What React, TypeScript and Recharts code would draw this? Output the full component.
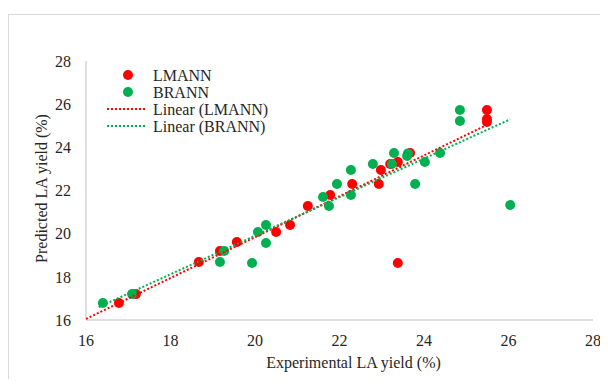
import { Label, Scatter, ScatterChart, XAxis, YAxis } from "recharts";

const lmannX = [16.78, 17.18, 18.67, 19.17, 19.57, 20.5, 20.83, 21.25, 21.78, 22.3, 22.93, 22.98, 23.2, 23.38, 23.67, 25.49, 25.49, 25.49, 23.38];
const lmannY = [16.79, 17.2, 18.69, 19.2, 19.61, 20.08, 20.4, 21.28, 21.79, 22.3, 22.3, 22.95, 23.23, 23.32, 23.74, 25.73, 25.31, 25.17, 18.64];

const brannX = [16.4, 17.09, 19.17, 19.27, 19.93, 20.07, 20.26, 20.26, 21.61, 21.75, 21.94, 22.27, 22.27, 22.79, 23.24, 23.29, 23.6, 23.62, 23.79, 24.02, 24.38, 24.85, 24.85, 26.04];
const brannY = [16.79, 17.2, 18.69, 19.2, 18.64, 20.08, 20.4, 19.57, 21.7, 21.28, 22.3, 21.79, 22.95, 23.23, 23.23, 23.74, 23.6, 23.72, 22.3, 23.32, 23.74, 25.73, 25.22, 21.33];

// trendline end points
const lmannTrendX = [16, 25.45];
const lmannTrendY = [16.05, 25.0];
const brannTrendX = [16.3, 26.04];
const brannTrendY = [16.6, 25.3];

const ticks = [16, 18, 20, 22, 24, 26, 28];

const RED = "#ff0000";
const GREEN = "#00b050";
const TEXT = "#262626";
const FONT = '"Liberation Serif", "Times New Roman", serif';

const toPoints = (xs: number[], ys: number[]) => xs.map((x, i) => ({ x, y: ys[i] }));

const lmann = toPoints(lmannX, lmannY);
const brann = toPoints(brannX, brannY);
const lmannTrend = toPoints(lmannTrendX, lmannTrendY);
const brannTrend = toPoints(brannTrendX, brannTrendY);

const noShape = () => <g />;

const legendRows = [
  { label: "LMANN", color: RED, kind: "dot" },
  { label: "BRANN", color: GREEN, kind: "dot" },
  { label: "Linear (LMANN)", color: RED, kind: "line" },
  { label: "Linear (BRANN)", color: GREEN, kind: "line" },
];

function ChartLegend() {
  return (
    <svg width={300} height={140} style={{ position: "absolute", left: 0, top: 0, pointerEvents: "none" }}>
      {legendRows.map((r, i) => {
        const cy = 60 + i * 17;
        return (
          <g key={r.label}>
            {r.kind === "dot" ? (
              <circle cx={119} cy={cy} r={5} fill={r.color} />
            ) : (
              <line x1={98} x2={138} y1={cy} y2={cy} stroke={r.color} strokeWidth={2} strokeDasharray="2 2" />
            )}
            <text x={144} y={cy} dy="0.35em" fontSize={16} fontFamily={FONT} fill={TEXT}>
              {r.label}
            </text>
          </g>
        );
      })}
    </svg>
  );
}

export default function App() {
  return (
    <div style={{ paddingTop: 6, width: 600, height: 371, boxSizing: "border-box", overflow: "hidden" }}>
      <div style={{ position: "relative", borderLeft: "1px solid #d9d9d9", borderTop: "1px solid #d9d9d9", width: 599, height: 364 }}>
        <ScatterChart width={599} height={364} margin={{ top: 46, right: 15, left: 17, bottom: 9 }}>
          <XAxis
            type="number"
            dataKey="x"
            domain={[16, 28]}
            ticks={ticks}
            allowDataOverflow
            height={50}
            tickLine={false}
            tickSize={10}
            tickMargin={5}
            stroke="#bfbfbf"
            tick={{ fill: TEXT, fontSize: 16, fontFamily: FONT }}
          >
            <Label value="Experimental LA yield (%)" position="insideBottom" offset={2} dx={14} fill={TEXT} fontSize={16} fontFamily={FONT} />
          </XAxis>
          <YAxis
            type="number"
            dataKey="y"
            domain={[16, 28]}
            ticks={ticks}
            allowDataOverflow
            width={60}
            tickLine={false}
            tickSize={10}
            tickMargin={5}
            stroke="#bfbfbf"
            tick={{ fill: TEXT, fontSize: 16, fontFamily: FONT }}
          >
            <Label value="Predicted LA yield (%)" angle={-90} position="insideLeft" offset={15} dy={-2} fill={TEXT} fontSize={16} fontFamily={FONT} style={{ textAnchor: "middle" }} />
          </YAxis>
          <Scatter name="LMANN" data={lmann} fill={RED} isAnimationActive={false} shape={(p: any) => <circle cx={p.cx} cy={p.cy} r={5} fill={RED} />} />
          <Scatter name="BRANN" data={brann} fill={GREEN} isAnimationActive={false} shape={(p: any) => <circle cx={p.cx} cy={p.cy} r={5} fill={GREEN} />} />
          <Scatter
            name="Linear (LMANN)"
            data={lmannTrend}
            isAnimationActive={false}
            line={{ stroke: RED, strokeWidth: 2, strokeDasharray: "2 2" }}
            shape={noShape}
            legendType="none"
          />
          <Scatter
            name="Linear (BRANN)"
            data={brannTrend}
            isAnimationActive={false}
            line={{ stroke: GREEN, strokeWidth: 2, strokeDasharray: "2 2" }}
            shape={noShape}
            legendType="none"
          />
        </ScatterChart>
        <ChartLegend />
      </div>
    </div>
  );
}
